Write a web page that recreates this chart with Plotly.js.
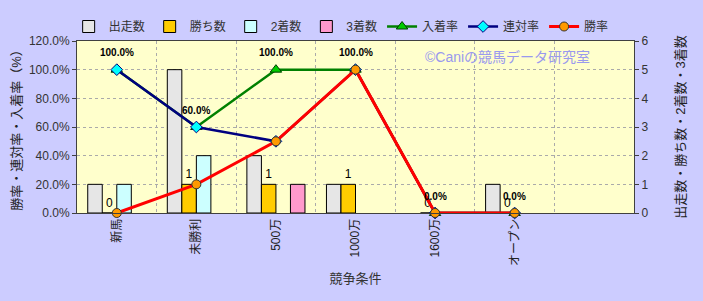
<!DOCTYPE html>
<html><head><meta charset="utf-8">
<script src="https://cdn.plot.ly/plotly-3.0.1.min.js"></script>
<style>html,body{margin:0;padding:0;background:#CCCCFF}#c{width:703px;height:301px;outline:1px solid #333;outline-offset:-1px}</style>
</head><body><div id="c"></div>
<script>
const categories = ['新馬','未勝利','500万','1000万','1600万','オープン'];
const starts  = [1,5,2,1,0,1];
const wins    = [0,1,1,1,0,0];
const second  = [1,2,0,0,0,0];
const third   = [0,0,1,0,0,0];
const placeRate = [1.0,0.6,1.0,1.0,0,0];
const rentaiRate = [1.0,0.6,0.5,1.0,0,0];
const winRate = [0,0.2,0.5,1.0,0,0];
const placeLabels = ['100.0%','60.0%','100.0%','100.0%','0.0%','0.0%'];

const F = 'Liberation Sans, Noto Sans CJK JP, sans-serif';
const nz = arr => arr.map(v => v > 0 ? v : null);
const barLine = {color:'#000', width:1};
const traces = [
  {type:'bar', name:'出走数', x:categories, y:nz(starts), yaxis:'y', marker:{color:'#E6E6E6', line:barLine}},
  {type:'bar', name:'勝ち数', x:categories, y:wins, yaxis:'y', marker:{color:'#FFCC00', line:barLine},
   text:wins.map(String), textposition:'outside', textfont:{family:F,size:12,color:'#000'}, cliponaxis:false},
  {type:'bar', name:'2着数', x:categories, y:nz(second), yaxis:'y', marker:{color:'#CCFFFF', line:barLine}},
  {type:'bar', name:'3着数', x:categories, y:nz(third), yaxis:'y', marker:{color:'#FF99CC', line:barLine}},
  {type:'scatter', mode:'lines+markers', name:'入着率', x:categories, y:placeRate, yaxis:'y2',
   line:{color:'#008000', width:2.5}, marker:{symbol:'triangle-up', size:10, color:'#00CC00', line:{color:'#004000', width:1}}, cliponaxis:false},
  {type:'scatter', mode:'lines+markers', name:'連対率', x:categories, y:rentaiRate, yaxis:'y2',
   line:{color:'#000080', width:2.5}, marker:{symbol:'diamond', size:9, color:'#00FFFF', line:{color:'#000080', width:1}}, cliponaxis:false},
  {type:'scatter', mode:'lines+markers', name:'勝率', x:categories, y:winRate, yaxis:'y2',
   line:{color:'#FF0000', width:3}, marker:{symbol:'circle', size:9, color:'#FF9900', line:{color:'#333', width:1}}, cliponaxis:false}
];

const annotations = categories.map((c,i)=>({
  x:c, y:placeRate[i], xref:'x', yref:'y2', text:placeLabels[i], showarrow:false, yshift:17,
  xanchor:'center', yanchor:'middle',
  font:{family:F, size:10, color:'#000', weight:'bold'}
}));
annotations.push({xref:'paper', yref:'paper', x:0.772, y:0.905, xanchor:'center', yanchor:'middle',
  text:'©Caniの競馬データ研究室', showarrow:false,
  font:{family:F, size:14, color:'#9999EE'}});

const layout = {
  width:703, height:301,
  paper_bgcolor:'#CCCCFF', plot_bgcolor:'#FFFFCC',
  margin:{l:77, r:69, t:25, b:88},
  font:{family:F, size:12, color:'#333'},
  barmode:'group', bargap:0.27, bargroupgap:0,
  showlegend:true,
  legend:{orientation:'h', x:-0.015, xanchor:'left', y:1, yanchor:'bottom', bgcolor:'rgba(0,0,0,0)',
    font:{family:F, size:12, color:'#333'}, traceorder:'normal', itemwidth:30},
  xaxis:{categoryorder:'array', categoryarray:categories, range:[-0.5,6.5], tickson:'boundaries',
    showgrid:true, gridcolor:'#AAAAAA', griddash:'dot', ticks:'', tickangle:-90,
    showline:true, linecolor:'#404040', mirror:true, zeroline:false,
    tickfont:{family:F, size:12, color:'#222'},
    title:{text:'競争条件', standoff:8, font:{family:F, size:13, color:'#333'}}},
  yaxis:{side:'right', range:[0,6], dtick:1, showgrid:true, gridcolor:'#AAAAAA', griddash:'dot',
    ticks:'outside', ticklen:4, tickcolor:'#404040', zeroline:false, showline:true, linecolor:'#404040',
    tickfont:{family:F, size:12, color:'#333'},
    title:{text:'出走数・勝ち数・2着数・3着数', standoff:28, font:{family:F, size:13, color:'#222'}}},
  yaxis2:{overlaying:'y', side:'left', range:[0,1.2], dtick:0.2, tickformat:'.1%', showgrid:false,
    ticks:'outside', ticklen:4, tickcolor:'#404040', zeroline:false, showline:true, linecolor:'#404040',
    tickfont:{family:F, size:12, color:'#333'},
    title:{text:'勝率・連対率・入着率（%）', standoff:4, font:{family:F, size:13, color:'#222'}}},
  annotations:annotations
};
Plotly.newPlot('c', traces, layout, {displayModeBar:false, staticPlot:true});
</script></body></html>
